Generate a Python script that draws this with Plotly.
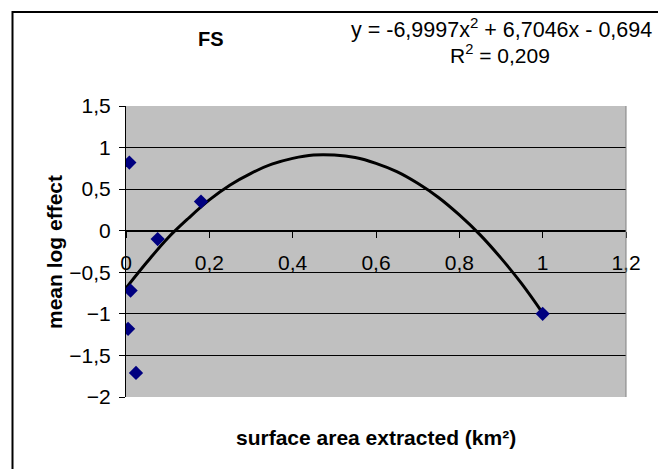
import plotly.graph_objects as go

# Observed points (surface area extracted, mean log effect)
area_km2 = [0.008, 0.011, 0.005, 0.024, 0.076, 0.18, 1.0]
mean_log_effect = [0.82, -0.72, -1.18, -1.71, -0.10, 0.35, -1.00]

# Polynomial trendline as drawn on the chart
trend_x = [0.0, 0.05, 0.10, 0.15, 0.20, 0.25, 0.30, 0.35, 0.40, 0.45, 0.50,
           0.55, 0.60, 0.65, 0.70, 0.75, 0.80, 0.85, 0.90, 0.95, 1.0]
trend_y = [-0.69, -0.38, -0.09, 0.15, 0.37, 0.55, 0.69, 0.80, 0.87, 0.91, 0.91,
           0.88, 0.81, 0.71, 0.57, 0.40, 0.19, -0.05, -0.33, -0.64, -0.99]

x_ticks = [0, 0.2, 0.4, 0.6, 0.8, 1.0, 1.2]
y_ticks = [-2, -1.5, -1, -0.5, 0, 0.5, 1, 1.5]

W, H = 658, 469
ML, MR, MT, MB = 126, 32, 106, 72
PW, PH = W - ML - MR, H - MT - MB


def px(x):
    return (x - ML) / PW


def py(y):
    return (H - MB - y) / PH


FONT = "Arial, Liberation Sans, sans-serif"

fig = go.Figure()
fig.add_trace(go.Scatter(x=trend_x, y=trend_y, mode="lines",
                         line=dict(color="black", width=3, shape="spline"),
                         hoverinfo="skip", showlegend=False))
fig.add_trace(go.Scatter(x=area_km2, y=mean_log_effect, mode="markers",
                         marker=dict(symbol="diamond", size=11, color="#000080",
                                     line=dict(width=0)),
                         showlegend=False))

fig.update_layout(
    width=W, height=H,
    margin=dict(l=ML, r=MR, t=MT, b=MB, pad=0),
    paper_bgcolor="white",
    plot_bgcolor="#C0C0C0",
    separators=", ",
    font=dict(family=FONT, size=21, color="black"),
    xaxis=dict(range=[0, 1.2], tickvals=x_ticks, ticks="outside", ticklen=6,
               tickcolor="black", showline=True, linecolor="black", linewidth=1,
               showgrid=False, zeroline=False, anchor="free",
               position=2 / 3.5, ticklabelstandoff=7,
               tickfont=dict(size=21)),
    yaxis=dict(range=[-2, 1.5], tickvals=y_ticks, ticks="outside", ticklen=6,
               tickcolor="black", showline=True, linecolor="black", linewidth=1,
               showgrid=True, gridcolor="black", gridwidth=1, zeroline=False,
               ticklabelstandoff=4, tickfont=dict(size=21)),
    shapes=[
        # plot area frame (right side grey)
        dict(type="line", xref="paper", yref="paper", x0=1, x1=1, y0=0, y1=1,
             line=dict(color="#808080", width=1)),
        # outer chart border (extends beyond the picture on the right/bottom)
        dict(type="rect", xref="paper", yref="paper",
             x0=px(12.5), x1=px(700), y0=py(520), y1=py(12),
             line=dict(color="black", width=2)),
    ],
    annotations=[
        dict(text="<b>FS</b>", x=px(211), y=py(39), xref="paper", yref="paper",
             showarrow=False, font=dict(size=20), xanchor="center", yanchor="middle"),
        dict(text="y = -6,9997x<sup>2</sup> + 6,7046x - 0,694", x=px(501), y=py(28),
             xref="paper", yref="paper", showarrow=False, font=dict(size=21.5),
             xanchor="center", yanchor="middle"),
        dict(text="R<sup>2</sup> = 0,209", x=px(500), y=py(54), xref="paper",
             yref="paper", showarrow=False, font=dict(size=21),
             xanchor="center", yanchor="middle"),
        dict(text="<b>surface area extracted (km²)</b>", x=px(376), y=py(437),
             xref="paper", yref="paper", showarrow=False, font=dict(size=21),
             xanchor="center", yanchor="middle"),
        dict(text="<b>mean log effect</b>", x=px(54), y=py(252), xref="paper",
             yref="paper", showarrow=False, font=dict(size=21), textangle=-90,
             xanchor="center", yanchor="middle"),
    ],
)

fig.write_html("out.html")
